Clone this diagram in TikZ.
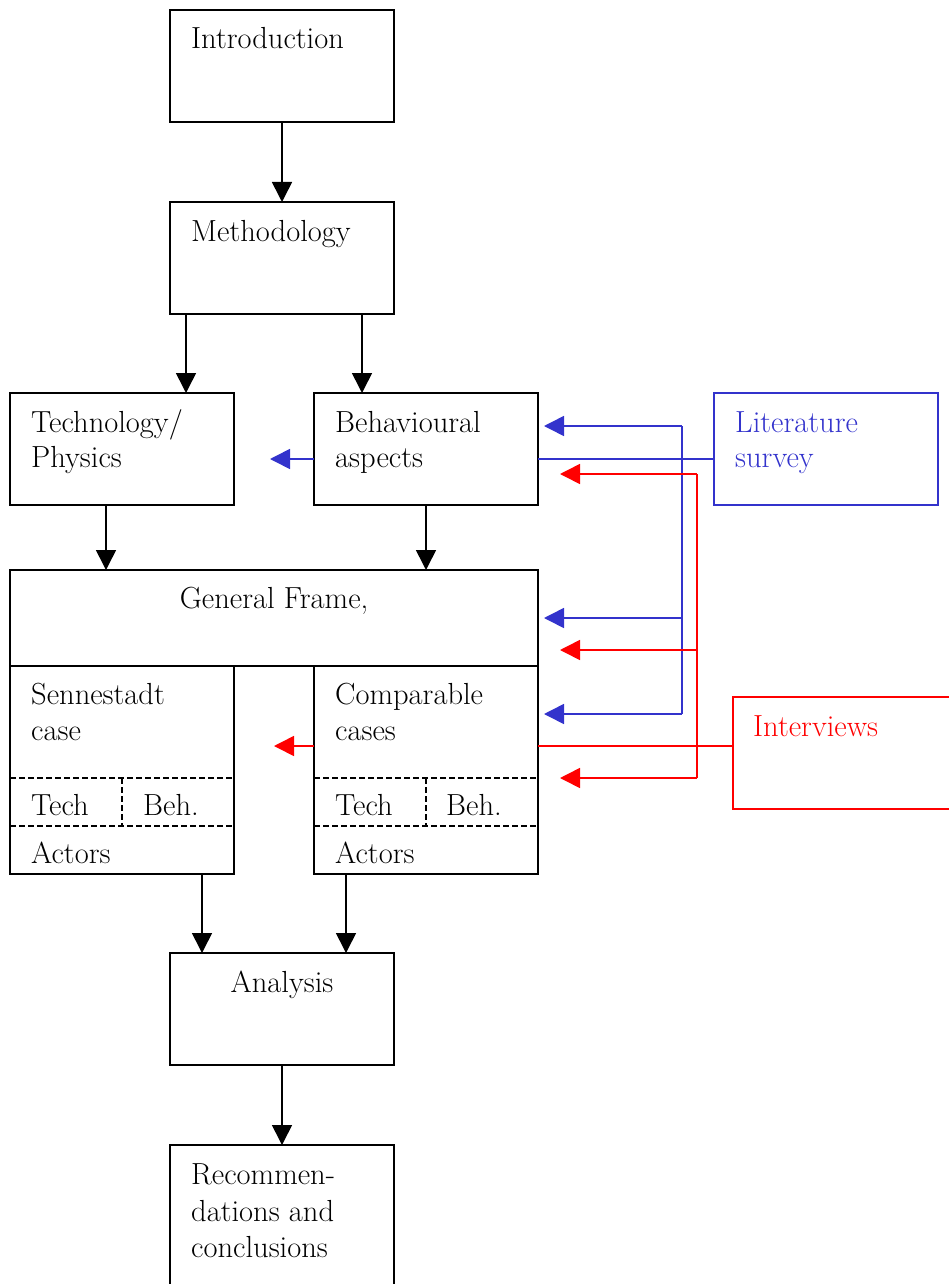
\documentclass[tikz,border=0pt]{standalone}
\usepackage{fontspec}
\usetikzlibrary{arrows.meta}
\definecolor{litblue}{RGB}{51,51,204}
\definecolor{intred}{RGB}{255,0,0}
\begin{document}
\begin{tikzpicture}[x=1pt,y=-1pt,
  box/.style={draw,line width=1.6pt,rectangle,anchor=north west,inner sep=0pt,outer sep=0pt,minimum width=224pt,minimum height=112pt},
  txt/.style={anchor=base west,inner sep=0pt,font=\fontsize{30.5}{36}\selectfont},
  tip/.style={-{Triangle[length=20pt,width=20pt]}},
  arr/.style={line width=1.6pt,tip},
  bl/.style={draw=litblue,line width=1.6pt},
  blarr/.style={bl,tip,litblue},
  rd/.style={draw=intred,line width=1.6pt},
  rdarr/.style={rd,tip,intred},
  dsh/.style={line width=1.3pt,dash pattern=on 6pt off 3pt}]
\useasboundingbox (0,0) rectangle (949,1284);
\clip (0,0) rectangle (949,1284);

% boxes
\node[box] (intro) at (170,10) {};
\node[box] (meth) at (170,202) {};
\node[box] (tech) at (10,393) {};
\node[box] (beh) at (314,393) {};
\node[box,draw=litblue] (lit) at (714,393) {};
\node[box,minimum width=528pt,minimum height=96pt] (gen) at (10,570) {};
\node[box,minimum height=208pt] (sen) at (10,666) {};
\node[box,minimum height=208pt] (comp) at (314,666) {};
\node[box,draw=intred,minimum width=250pt] (inter) at (733,697) {};
\node[box] (anal) at (170,953) {};
\node[box,minimum height=170pt] (rec) at (170,1145) {};

% dashed subdivisions
\draw[dsh] ([yshift=-112pt]sen.north west) -- ([yshift=-112pt]sen.north east);
\draw[dsh] ([yshift=-160pt]sen.north west) -- ([yshift=-160pt]sen.north east);
\draw[dsh] ([yshift=-112pt]sen.north) -- ([yshift=-160pt]sen.north);
\draw[dsh] ([yshift=-112pt]comp.north west) -- ([yshift=-112pt]comp.north east);
\draw[dsh] ([yshift=-160pt]comp.north west) -- ([yshift=-160pt]comp.north east);
\draw[dsh] ([yshift=-112pt]comp.north) -- ([yshift=-160pt]comp.north);

% texts
\node[txt] at (191,49) {Introduction};
\node[txt] at (191,241) {Methodology};
\node[txt] at (31,432) {Technology/};
\node[txt] at (31,467) {Physics};
\node[txt] at (335,432) {Behavioural};
\node[txt] at (335,467) {aspects};
\node[txt,text=litblue] at (735,432) {Literature};
\node[txt,text=litblue] at (735,467) {survey};
\node[txt,anchor=base] at (274,608) {General Frame,};
\node[txt] at (31,704) {Sennestadt};
\node[txt] at (31,740) {case};
\node[txt] at (31,815) {Tech};
\node[txt] at (143,815) {Beh.};
\node[txt] at (31,863) {Actors};
\node[txt] at (335,704) {Comparable};
\node[txt] at (335,740) {cases};
\node[txt] at (335,815) {Tech};
\node[txt] at (446,815) {Beh.};
\node[txt] at (335,863) {Actors};
\node[txt,text=intred] at (753,736) {Interviews};
\node[txt,anchor=base] at (282,992) {Analysis};
\node[txt] at (191,1184) {Recommen-};
\node[txt] at (191,1221) {dations and};
\node[txt] at (191,1257) {conclusions};

% black arrows
\draw[arr] (intro.south) -- (meth.north);
\draw[arr] ([xshift=16pt]meth.south west) -- ([xshift=16pt]meth.south west |- tech.north);
\draw[arr] ([xshift=48pt]beh.north west |- meth.south) -- ([xshift=48pt]beh.north west);
\draw[arr] ([xshift=-16pt]tech.south) -- ([xshift=-16pt]tech.south |- gen.north);
\draw[arr] (beh.south) -- (beh.south |- gen.north);
\draw[arr] ([xshift=-32pt]sen.south east) -- ([xshift=-32pt]sen.south east |- anal.north);
\draw[arr] ([xshift=32pt]comp.south west) -- ([xshift=32pt]comp.south west |- anal.north);
\draw[arr] (anal.south) -- (rec.north);

% blue connectors
\coordinate (btip) at (270,459);
\draw[blarr] ([yshift=-10pt]beh.west) -- (btip);
\draw[bl] ([yshift=-10pt]lit.west) -- ([yshift=-10pt]beh.east);
\coordinate (bv1) at (682,426);
\coordinate (bv2) at (682,618);
\coordinate (bv3) at (682,714);
\draw[bl] (bv1) -- (bv3);
\draw[blarr] (bv1) -- ([xshift=6pt]beh.east |- bv1);
\draw[blarr] (bv2) -- ([xshift=6pt]gen.east |- bv2);
\draw[blarr] (bv3) -- ([xshift=6pt]comp.east |- bv3);

% red connectors
\coordinate (rtip) at (274,746);
\draw[rdarr] ([yshift=24pt]comp.west) -- (rtip);
\draw[rd] ([yshift=7pt]inter.west) -- ([yshift=24pt]comp.east);
\coordinate (rv1) at (697,474);
\coordinate (rv2) at (697,650);
\coordinate (rv3) at (697,778);
\draw[rd] (rv1) -- (rv3);
\draw[rdarr] (rv1) -- ([xshift=22pt]beh.east |- rv1);
\draw[rdarr] (rv2) -- ([xshift=22pt]gen.east |- rv2);
\draw[rdarr] (rv3) -- ([xshift=22pt]comp.east |- rv3);
\end{tikzpicture}
\end{document}
